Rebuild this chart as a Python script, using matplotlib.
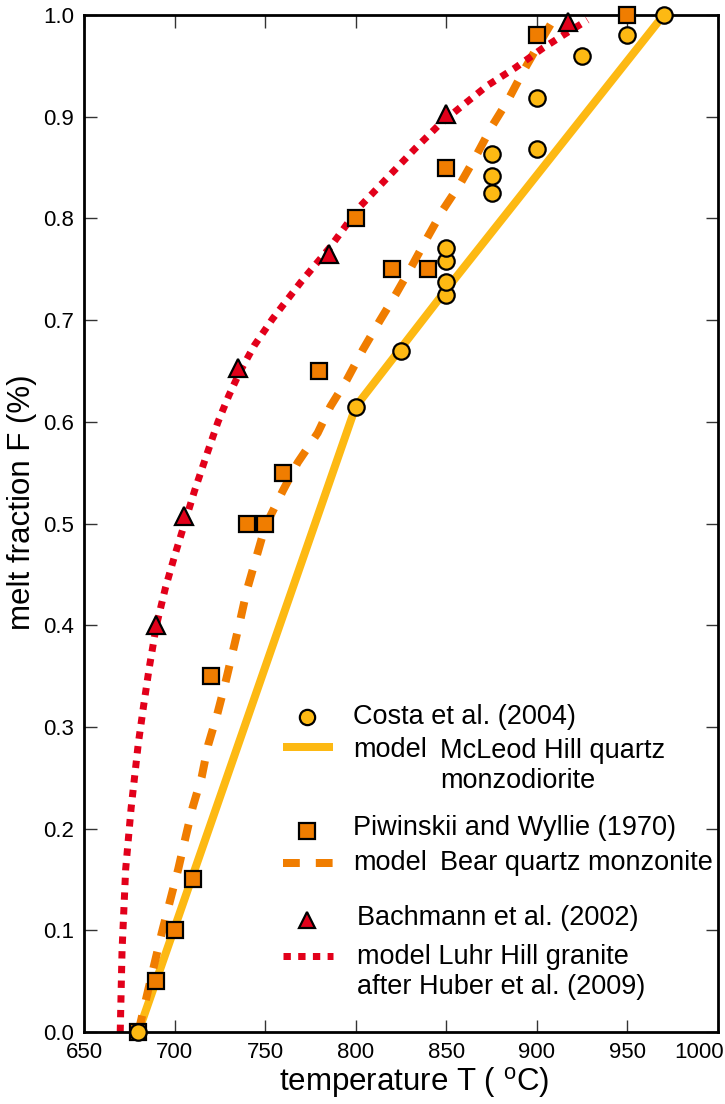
import matplotlib
matplotlib.use("Agg")
import matplotlib.pyplot as plt
import matplotlib.transforms as mtrans
import numpy as np

plt.rcParams['font.family'] = ['Liberation Sans', 'DejaVu Sans']

# ---- data ----
costa_T = [680, 800, 825, 850, 850, 850, 850, 875, 875, 875, 900, 900, 925, 950, 970]
costa_F = [0.0, 0.615, 0.67, 0.725, 0.737, 0.758, 0.771, 0.825, 0.842, 0.863, 0.868, 0.918, 0.96, 0.98, 1.0]

piw_T = [680, 690, 700, 710, 720, 740, 750, 760, 780, 800, 820, 840, 850, 900, 950]
piw_F = [0.0, 0.05, 0.10, 0.15, 0.35, 0.50, 0.50, 0.55, 0.65, 0.80, 0.75, 0.75, 0.85, 0.98, 1.0]

bach_T = [690, 705, 735, 785, 850, 917]
bach_F = [0.40, 0.507, 0.653, 0.765, 0.903, 0.993]

mcleod_T = [680, 800, 850, 970]
mcleod_F = [0.0, 0.615, 0.73, 1.0]

bear_T = [680, 685, 689, 693, 697.5, 702, 706, 710, 715, 718.5, 723.5, 728, 732, 736, 740, 745, 750,
          760, 768, 779, 786, 795, 804, 813.5, 822, 830, 839.5, 848, 858, 866, 875, 884, 892, 900, 909, 910]
bear_F = [0.0, 0.038, 0.068, 0.098, 0.129, 0.16, 0.191, 0.221, 0.251, 0.282, 0.312, 0.343, 0.373, 0.403,
          0.435, 0.466, 0.497, 0.533, 0.56, 0.589, 0.615, 0.641, 0.671, 0.70, 0.725, 0.75, 0.781, 0.808,
          0.835, 0.86, 0.89, 0.916, 0.943, 0.968, 0.995, 1.0]

luhr_T = [670, 671, 673, 676, 680, 683, 686, 690, 695, 700, 705, 711, 718, 724, 730, 736, 744, 754, 760, 770,
          786, 802, 818, 833, 846, 859, 873, 888, 903, 917, 928]
luhr_F = [0.0, 0.08, 0.16, 0.22, 0.284, 0.322, 0.358, 0.40, 0.437, 0.468, 0.497, 0.532, 0.569, 0.600, 0.626,
          0.649, 0.675, 0.701, 0.715, 0.738, 0.772, 0.811, 0.841, 0.869, 0.892, 0.911, 0.931, 0.948, 0.967,
          0.983, 0.995]

x_ticks = [650, 700, 750, 800, 850, 900, 950, 1000]
y_ticks = [0.0, 0.1, 0.2, 0.3, 0.4, 0.5, 0.6, 0.7, 0.8, 0.9, 1.0]

YEL = '#FDB913'
ORA = '#F07D00'
RED = '#E2001A'

W, H = 725, 1104
fig = plt.figure(figsize=(W / 100, H / 100), dpi=100)
L, R, T, B = 84, 718, 15, 1032
ax = fig.add_axes([L / W, 1 - B / H, (R - L) / W, (B - T) / H])

lw_px = 8 * 0.72
ax.plot(mcleod_T, mcleod_F, color=YEL, lw=lw_px, solid_capstyle='butt', zorder=2)
ax.plot(bear_T, bear_F, color=ORA, lw=lw_px, dashes=(2.1, 2.0), dash_capstyle='butt', zorder=2)
ax.plot(luhr_T, luhr_F, color=RED, lw=7 * 0.72, dashes=(1.05, 1.05), dash_capstyle='butt', zorder=2)

ms = 11.8
ax.plot(piw_T, piw_F, 's', ms=ms, mfc=ORA, mec='black', mew=1.6, zorder=3, clip_on=False)
ax.plot(bach_T, bach_F, '^', ms=ms + 0.5, mfc=RED, mec='black', mew=1.6, zorder=3, clip_on=False)
ax.plot(costa_T, costa_F, 'o', ms=ms, mfc=YEL, mec='black', mew=1.6, zorder=4, clip_on=False)

ax.set_xlim(650, 1000)
ax.set_ylim(0, 1.0)
ax.set_xticks(x_ticks)
ax.set_yticks(y_ticks)
ax.set_yticklabels([f"{v:.1f}" for v in y_ticks])
ax.tick_params(direction='in', length=9, width=1.0, labelsize=16, pad=7,
               top=True, right=True, color='#333333')
for s in ax.spines.values():
    s.set_linewidth(2.0)

# keep the last x tick label inside the figure
lab = ax.get_xticklabels()[-1]
lab.set_transform(lab.get_transform() + mtrans.ScaledTranslation(-19 / 100, 0, fig.dpi_scale_trans))

ax.set_xlabel('temperature T ( $^{\\mathregular{o}}$C)', fontsize=22.5)
ax.xaxis.set_label_coords((414 - L) / (R - L), (B - 1083) / (B - T), transform=ax.transAxes)
ax.xaxis.label.set_va('center')
ax.set_ylabel('melt fraction F (%)', fontsize=22.5)
ax.yaxis.set_label_coords(-(L - 22) / (R - L), (B - 502) / (B - T), transform=ax.transAxes)
ax.yaxis.label.set_va('center')

# ---- manual legend (pixel positions) ----
def P(px, py):
    return (px - L) / (R - L), (B - py) / (B - T)

def leg_line(y, **kw):
    x0, yy = P(283, y)
    x1, _ = P(333, y)
    ax.plot([x0, x1], [yy, yy], transform=ax.transAxes, clip_on=False, **kw)

def leg_mark(y, **kw):
    x, yy = P(307, y)
    ax.plot([x], [yy], transform=ax.transAxes, clip_on=False, **kw)

def leg_text(x, y, s):
    xx, yy = P(x, y)
    ax.text(xx, yy, s, transform=ax.transAxes, fontsize=19.5, va='center', ha='left',
            linespacing=1.2)

leg_mark(717, marker='o', ms=11, mfc=YEL, mec='black', mew=1.6, ls='none')
leg_text(353, 717, 'Costa et al. (2004)')
leg_line(747, color=YEL, lw=lw_px, solid_capstyle='butt')
leg_text(353, 750, 'model')
leg_text(440, 766, 'McLeod Hill quartz\nmonzodiorite')

leg_mark(831, marker='s', ms=11, mfc=ORA, mec='black', mew=1.6, ls='none')
leg_text(353, 828, 'Piwinskii and Wyllie (1970)')
leg_line(863, color=ORA, lw=lw_px, dashes=(2.1, 2.0), dash_capstyle='butt')
leg_text(353, 863, 'model')
leg_text(440, 863, 'Bear quartz monzonite')

leg_mark(920, marker='^', ms=11.5, mfc=RED, mec='black', mew=1.6, ls='none')
leg_text(357, 918, 'Bachmann et al. (2002)')
leg_line(956, color=RED, lw=7 * 0.72, dashes=(1.05, 1.05), dash_capstyle='butt')
leg_text(357, 972, 'model Luhr Hill granite\nafter Huber et al. (2009)')

fig.savefig('out.png', dpi=100)
